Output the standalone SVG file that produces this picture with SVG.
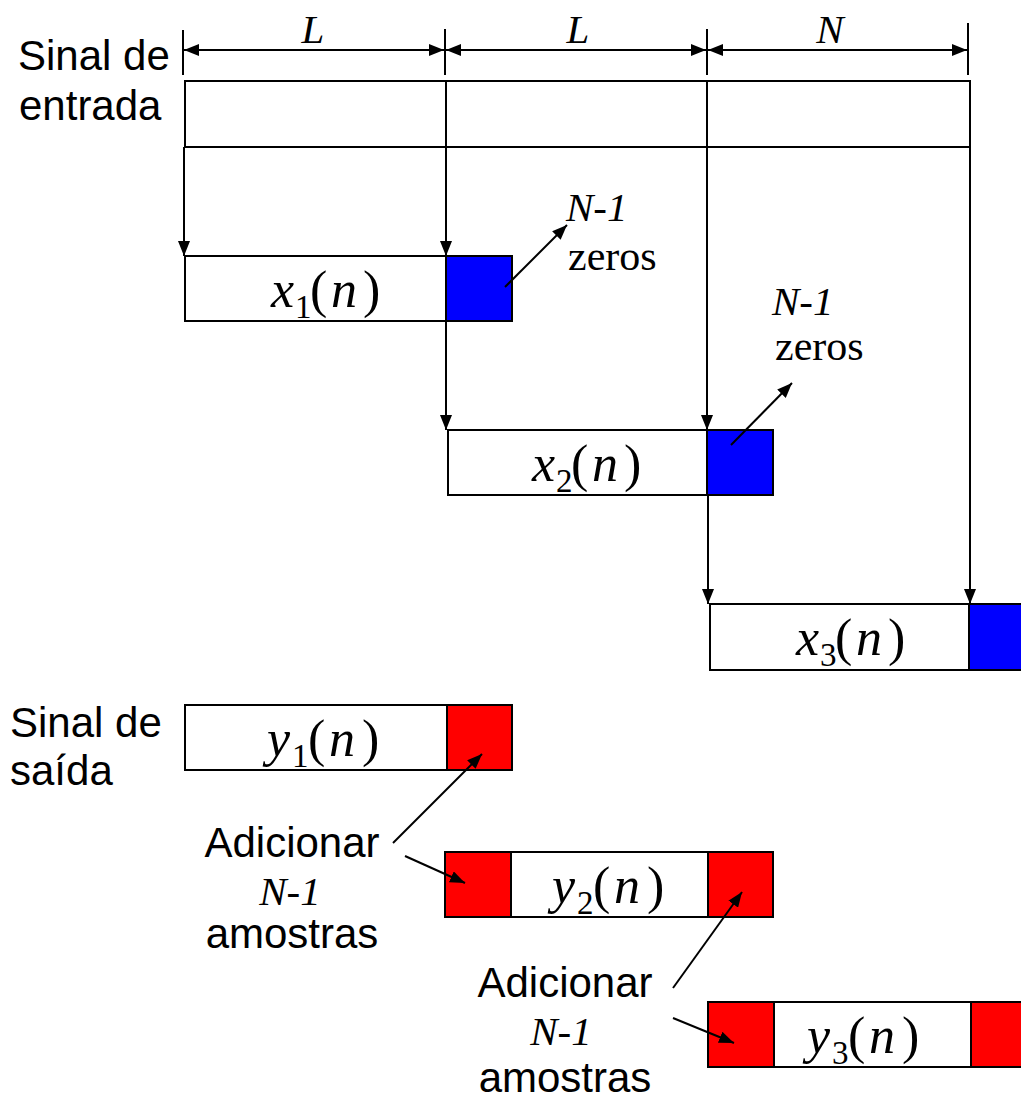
<svg xmlns="http://www.w3.org/2000/svg" width="1021" height="1101" viewBox="0 0 1021 1101">
<defs>
<marker id="ah" markerUnits="userSpaceOnUse" markerWidth="15" markerHeight="12" refX="15" refY="6" orient="auto-start-reverse"><path d="M0,0 L15,6 L0,12 z" fill="#000"/></marker>
<style>
.ln{stroke:#000;stroke-width:2;fill:none}
.ar{stroke:#000;stroke-width:2;fill:none;marker-end:url(#ah)}
.dim{stroke:#000;stroke-width:2;fill:none;marker-start:url(#ah);marker-end:url(#ah)}
.bx{fill:#fff;stroke:#000;stroke-width:2}
.bl{fill:#0000ff;stroke:#000;stroke-width:2}
.rd{fill:#ff0000;stroke:#000;stroke-width:2}
.sans{font-family:"Liberation Sans",Arial,sans-serif;font-size:42px;fill:#000}
.ser{font-family:"Liberation Serif","Times New Roman",serif;fill:#000}
.it{font-style:italic}
.m{font-family:"Liberation Serif","Times New Roman",serif;font-size:52px;fill:#000}
.sub{font-size:33px;font-style:normal}
</style>
</defs>

<g id="dim-labels">
<text class="ser it" font-size="41" x="313" y="43" text-anchor="middle">L</text>
<text class="ser it" font-size="41" x="578" y="43" text-anchor="middle">L</text>
<text class="ser it" font-size="41" x="830" y="43" text-anchor="middle">N</text>
</g>

<g id="input-label">
<text class="sans" x="18" y="70">Sinal de</text>
<text class="sans" x="19" y="120">entrada</text>
</g>

<g id="input-signal">
<rect class="bx" x="185" y="81" width="785" height="66"/>
<line class="ln" x1="446" y1="81" x2="446" y2="147"/>
<line class="ln" x1="707" y1="81" x2="707" y2="147"/>
</g>

<g id="x1">
<rect class="bx" x="185" y="256" width="261" height="65"/>
<rect class="bl" x="446" y="256" width="66" height="65"/>
<text class="m" y="307"><tspan x="271" class="it">x</tspan><tspan x="295" dy="11" class="sub">1</tspan><tspan x="310" dy="-11">(</tspan><tspan x="331" class="it">n</tspan><tspan x="363">)</tspan></text>
</g>

<g id="zeros1">
<text class="ser it" font-size="41" x="566" y="221">N-1</text>
<text class="ser" font-size="42" x="568" y="270">zeros</text>
</g>

<g id="x2">
<rect class="bx" x="448" y="430" width="259" height="65"/>
<rect class="bl" x="707" y="430" width="66" height="65"/>
<text class="m" y="481"><tspan x="532" class="it">x</tspan><tspan x="556" dy="11" class="sub">2</tspan><tspan x="571" dy="-11">(</tspan><tspan x="592" class="it">n</tspan><tspan x="624">)</tspan></text>
</g>

<g id="zeros2">
<text class="ser it" font-size="41" x="772" y="315">N-1</text>
<text class="ser" font-size="42" x="775" y="360">zeros</text>
</g>

<g id="x3">
<rect class="bx" x="710" y="604" width="259" height="66"/>
<rect class="bl" x="969" y="604" width="66" height="66"/>
<text class="m" y="655"><tspan x="796" class="it">x</tspan><tspan x="820" dy="11" class="sub">3</tspan><tspan x="835" dy="-11">(</tspan><tspan x="856" class="it">n</tspan><tspan x="888">)</tspan></text>
</g>

<g id="output-label">
<text class="sans" x="10" y="737">Sinal de</text>
<text class="sans" x="10" y="785">saída</text>
</g>

<g id="y1">
<rect class="bx" x="185" y="705" width="262" height="65"/>
<rect class="rd" x="447" y="705" width="65" height="65"/>
<text class="m" y="756"><tspan x="267" class="it">y</tspan><tspan x="292" dy="11" class="sub">1</tspan><tspan x="308" dy="-11">(</tspan><tspan x="329" class="it">n</tspan><tspan x="362">)</tspan></text>
</g>

<g id="add1">
<text class="sans" x="292" y="857" text-anchor="middle">Adicionar</text>
<text class="ser it" font-size="41" x="290" y="905" text-anchor="middle">N-1</text>
<text class="sans" x="292" y="948" text-anchor="middle">amostras</text>
</g>

<g id="y2">
<rect class="rd" x="445" y="852" width="66" height="65"/>
<rect class="bx" x="511" y="852" width="197" height="65"/>
<rect class="rd" x="708" y="852" width="65" height="65"/>
<text class="m" y="903"><tspan x="552" class="it">y</tspan><tspan x="577" dy="11" class="sub">2</tspan><tspan x="593" dy="-11">(</tspan><tspan x="614" class="it">n</tspan><tspan x="647">)</tspan></text>
</g>

<g id="add2">
<text class="sans" x="565" y="997" text-anchor="middle">Adicionar</text>
<text class="ser it" font-size="41" x="561" y="1045" text-anchor="middle">N-1</text>
<text class="sans" x="565" y="1092" text-anchor="middle">amostras</text>
</g>

<g id="y3">
<rect class="rd" x="708" y="1002" width="66" height="65"/>
<rect class="bx" x="774" y="1002" width="197" height="65"/>
<rect class="rd" x="971" y="1002" width="66" height="65"/>
<text class="m" y="1053"><tspan x="807" class="it">y</tspan><tspan x="832" dy="11" class="sub">3</tspan><tspan x="848" dy="-11">(</tspan><tspan x="869" class="it">n</tspan><tspan x="902">)</tspan></text>
</g>

<g id="connectors">
<line class="ln" x1="183" y1="30" x2="183" y2="75"/>
<line class="ln" x1="445" y1="29" x2="445" y2="75"/>
<line class="ln" x1="707" y1="29" x2="707" y2="75"/>
<line class="ln" x1="968" y1="23" x2="968" y2="75"/>
<line class="dim" x1="184" y1="50" x2="444" y2="50"/>
<line class="dim" x1="446" y1="50" x2="706" y2="50"/>
<line class="dim" x1="708" y1="50" x2="967" y2="50"/>
<line class="ar" x1="184" y1="147" x2="184" y2="256"/>
<line class="ar" x1="446" y1="147" x2="446" y2="256"/>
<line class="ar" x1="446" y1="321" x2="446" y2="430"/>
<line class="ar" x1="707" y1="147" x2="707" y2="430"/>
<line class="ar" x1="708" y1="495" x2="708" y2="604"/>
<line class="ar" x1="970" y1="147" x2="970" y2="604"/>
<line class="ar" x1="505" y1="287" x2="567" y2="225"/>
<line class="ar" x1="731" y1="445" x2="792" y2="383"/>
<line class="ar" x1="393" y1="843" x2="482" y2="754"/>
<line class="ar" x1="405" y1="856" x2="465" y2="883"/>
<line class="ar" x1="673" y1="988" x2="742" y2="892"/>
<line class="ar" x1="673" y1="1018" x2="734" y2="1043"/>
</g>
</svg>
